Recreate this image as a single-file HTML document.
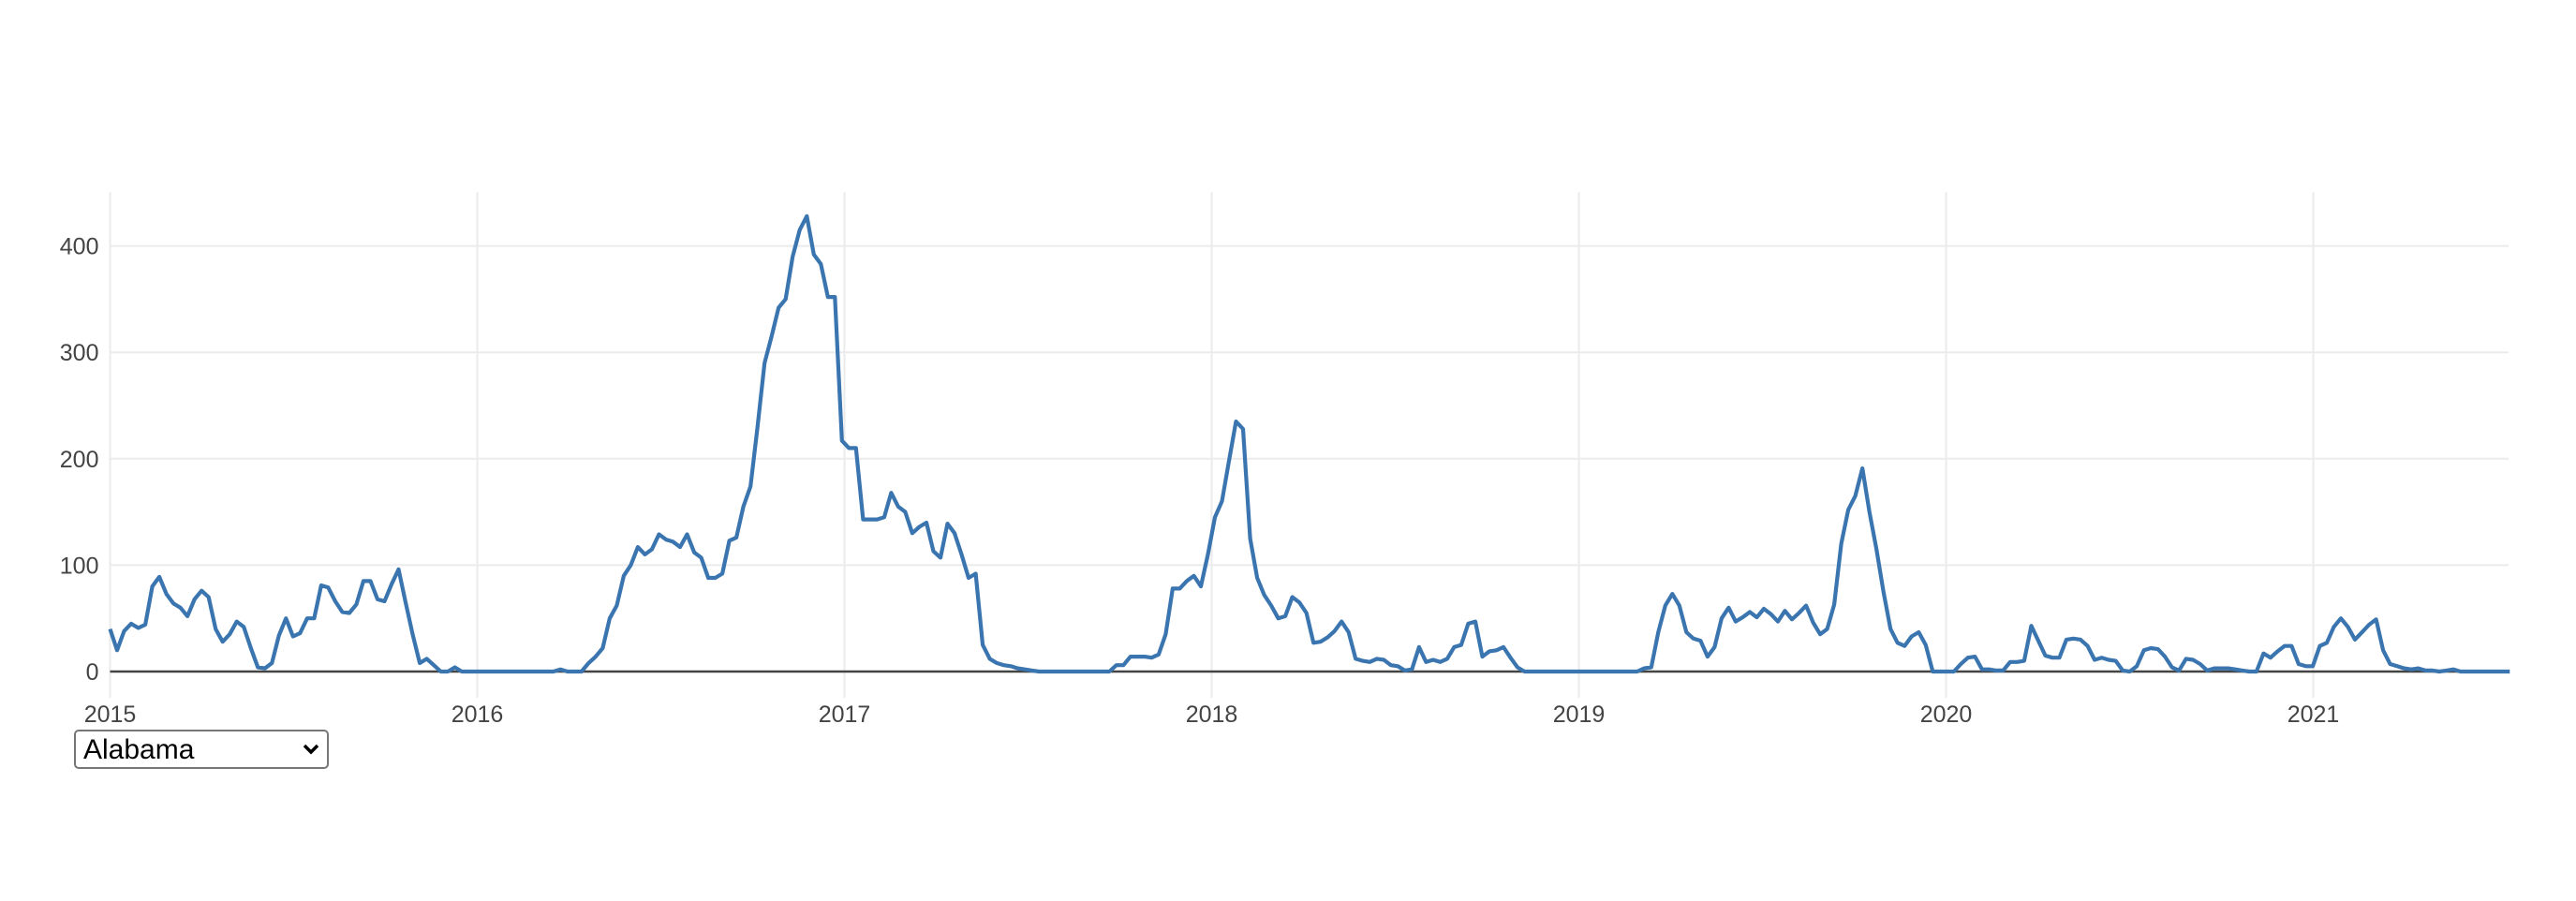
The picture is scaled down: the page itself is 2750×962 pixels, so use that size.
<!DOCTYPE html>
<html><head><meta charset="utf-8"><style>
html,body{margin:0;padding:0;background:#fff;width:2750px;height:962px;overflow:hidden;font-family:"Liberation Sans",sans-serif}
#state{position:absolute;left:79px;top:779px;width:272px;height:42px;font-family:"Liberation Sans",sans-serif;font-size:30px;border:2px solid #767676;border-radius:5px;background:#fff;color:#000;padding:0 8px;box-sizing:border-box;-webkit-appearance:none;appearance:none}
#chev{position:absolute;left:323px;top:789px;pointer-events:none}
</style></head><body>
<svg id="chart" width="2750" height="962" style="position:absolute;left:0;top:0"></svg>
<select id="state"><option>Alabama</option></select>
<svg id="chev" width="18" height="22"><polyline points="2,7 9,14 16,7" fill="none" stroke="#000" stroke-width="3.5"/></svg>
<script>
const yTicks=[0,100,200,300,400];
const xTickYears=[2015,2016,2017,2018,2019,2020,2021];
const weeklyValues=[40,20,38,45,41,44,80,89,73,64,60,52,68,76,70,40,28,35,47,42,22,4,3,8,34,50,33,36,50,50,81,79,66,56,55,63,85,85,68,66,82,96,65,35,8,12,6,0,0,4,0,0,
0,0,0,0,0,0,0,0,0,0,0,0,2,0,0,0,8,14,22,50,62,90,100,117,110,115,129,124,122,117,129,112,107,88,88,92,123,126,155,174,230,290,315,342,350,390,415,428,392,383,352,352,
217,210,210,143,143,143,145,168,155,150,130,136,140,113,107,139,130,110,88,92,25,12,8,6,5,3,2,1,0,0,0,0,0,0,0,0,0,0,0,6,6,14,14,14,13,16,35,78,78,85,90,80,
110,145,160,198,235,228,125,88,72,62,50,52,70,65,55,27,28,32,38,47,37,12,10,9,12,11,6,5,1,2,23,9,11,9,12,23,25,45,47,14,19,20,23,13,4,0,0,0,0,0,0,0,
0,0,0,0,0,0,0,0,0,0,3,4,37,62,73,62,37,31,29,14,23,50,60,47,51,56,51,59,54,47,57,49,55,62,46,35,40,63,120,152,165,191,150,115,75,40,27,24,33,37,25,0,
0,0,0,7,13,14,2,2,1,1,9,9,10,43,29,15,13,13,30,31,30,24,11,13,11,10,1,0,5,20,22,21,14,4,1,12,11,7,1,3,3,3,2,1,0,0,17,13,19,24,24,7,
5,5,24,27,42,50,42,30,37,44,49,20,7,5,3,2,3,1,1,0,1,2,0,0,0,0,0,0,0,0];
const startYear=2015.0;

const svg=document.getElementById('chart');
const NS='http://www.w3.org/2000/svg';
const X0=117.5,YEARW=392,PLOT_R=2678,PLOT_T=205,Y0=717,PER100=113.6;
function xScale(yr){return X0+(yr-2015)*YEARW;}
function yScale(v){return Y0-v*PER100/100;}
function mk(t,a){const e=document.createElementNS(NS,t);for(const k in a)e.setAttribute(k,a[k]);svg.appendChild(e);return e;}

yTicks.forEach(v=>{
  if(v>0){const g=mk('line',{x1:X0,x2:PLOT_R,y1:yScale(v),y2:yScale(v),stroke:'#ebebeb','stroke-width':2});
  
  }
  const t=mk('text',{x:X0-12,y:yScale(v)+9,'text-anchor':'end','font-size':25,fill:'#444','font-family':'Liberation Sans, sans-serif'});
  t.textContent=v;
  
  
});
xTickYears.forEach(yr=>{
  const x=xScale(yr);
  const g=mk('line',{x1:x,x2:x,y1:PLOT_T,y2:745,stroke:'#ebebeb','stroke-width':2});
  
  
  const t=mk('text',{x:x,y:771,'text-anchor':'middle','font-size':25,fill:'#444','font-family':'Liberation Sans, sans-serif'});
  t.textContent=yr;
  
  
});
const z=mk('line',{x1:X0,x2:PLOT_R,y1:Y0,y2:Y0,stroke:'#444','stroke-width':2.5});


const pts=weeklyValues.map((v,i)=>xScale(startYear+i*7/365.25).toFixed(1)+','+yScale(v).toFixed(1)).join(' ');
const line=mk('polyline',{points:pts,fill:'none',stroke:'#3a75b0','stroke-width':4.2,'stroke-linejoin':'round'});


</script>
</body></html>
